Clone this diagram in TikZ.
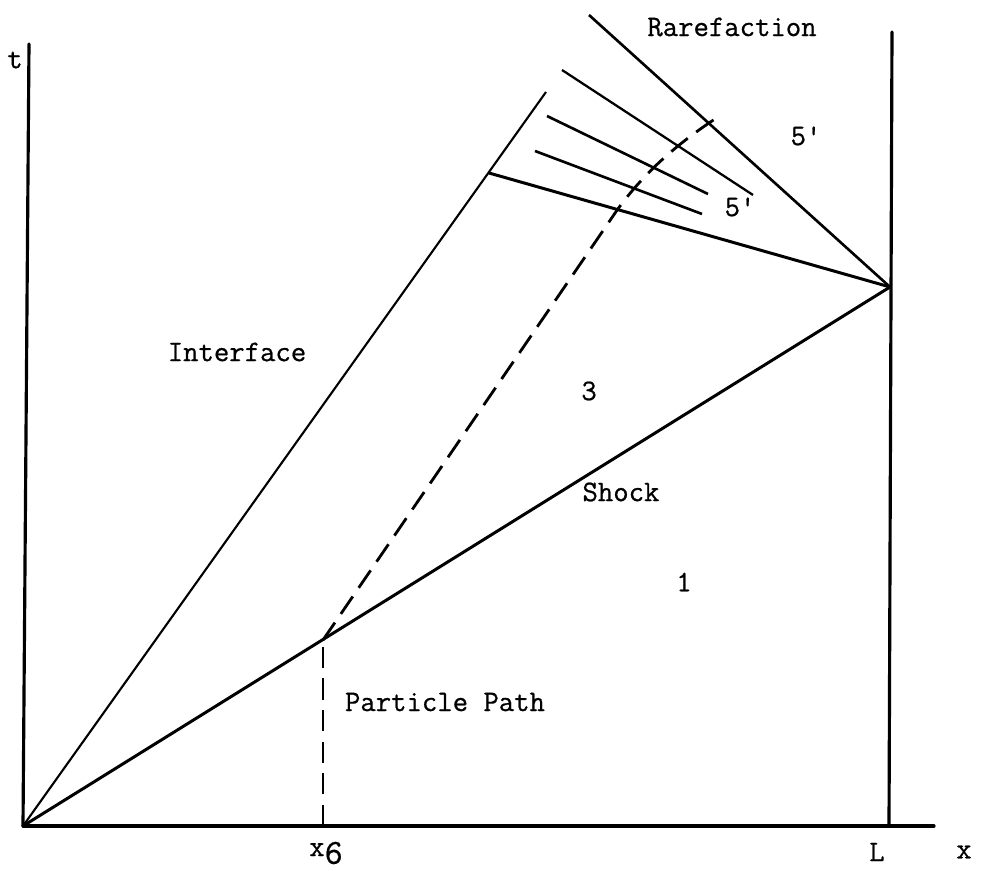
\documentclass[tikz,border=0pt]{standalone}
\usepackage{fontspec}
\newfontfamily\typefont{Latin Modern Mono}[FakeBold=0.7]
\usetikzlibrary{positioning,calc}

\begin{document}
\begin{tikzpicture}[
  x=0.02cm,y=-0.02cm,
  font=\typefont\fontsize{17}{20}\selectfont,
  axis/.style={line width=1.8pt,black,line cap=round},
  wave/.style={line width=1.7pt,black},
  fan/.style={line width=1.3pt,black},
  ppath/.style={line width=1.6pt,black,dash pattern=on 12pt off 6pt},
  lbl/.style={inner sep=0pt}
]
\useasboundingbox (0,0) rectangle (981,871);
% ejes
\coordinate (O) at (23,826);
\coordinate (ttop) at (29,44);
\coordinate (xend) at (934,826);
\coordinate (Lfoot) at (889,826);
\coordinate (Ltop) at (892,32);
\draw[axis] (O) -- (ttop);
\draw[axis] (O) -- (xend);
\draw[axis] (Lfoot) -- (Ltop);
% ondas
\coordinate (R) at (890,287);
\coordinate (I) at (546,92);
\coordinate (J) at (489,173);
\coordinate (P) at (323,640);
\coordinate (x6) at (323,826);
\draw[wave] (O) -- (R);
\draw[wave,line width=1.2pt] (O) -- (I);
\draw[wave] (J) -- (R);
% rarefaccion
\coordinate (fan1) at (589,15);
\coordinate (fan2a) at (562,70);
\coordinate (fan2b) at (753,195);
\coordinate (fan3a) at (547,116);
\coordinate (fan3b) at (708,194);
\coordinate (fan4a) at (535,151);
\coordinate (fan4b) at (702,214);
\draw[fan,line width=1.5pt] (R) -- (fan1);
\draw[fan] (fan2a) -- (fan2b);
\draw[fan,line width=1.5pt] (fan3a) -- (fan3b);
\draw[fan,line width=1.5pt] (fan4a) -- (fan4b);
% trayectoria
\coordinate (C) at (617.5,209.5);
\coordinate (E) at (721,115);
\draw[ppath] (x6) -- (P);
\draw[ppath] (P) -- (C) .. controls (652,162) and (692,134) .. (E);
% etiquetas
\node[lbl] (tlab) at (15,60) {t};
\node[lbl] (rare) at (732,27) {Rarefaction};
\node[lbl] (r5a) at (806,136) {5'};
\node[lbl] (r5b) at (740,207) {5'};
\node[lbl] (inter) at (237,352) {Interface};
\node[lbl] (r3) at (589,391) {3};
\node[lbl] (shock) at (621,492) {Shock};
\node[lbl] (r1) at (684,582) {1};
\node[lbl] (part) at (445,702) {Particle Path};
\node[lbl] (x6lab) at (326,853) {x\raisebox{-0.6ex}{\fontsize{20}{22}\selectfont 6}};
\node[lbl] (Llab) at (877,852) {L};
\node[lbl] (xlab) at (964,852) {x};
\end{tikzpicture}
\end{document}
